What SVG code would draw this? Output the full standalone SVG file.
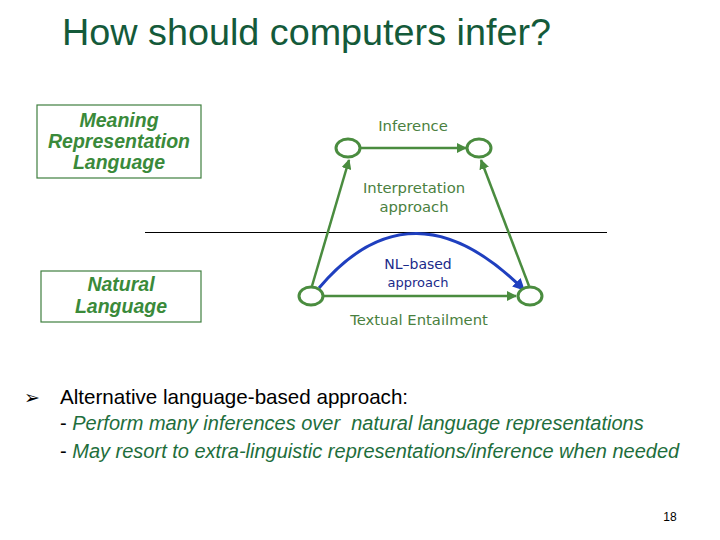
<svg xmlns="http://www.w3.org/2000/svg" width="720" height="540" viewBox="0 0 720 540">
<defs>
<style>
.t{font-family:"Liberation Sans",Arial,sans-serif}
.box{fill:#fff;stroke:#3f7f3f;stroke-width:1.2}
.bl{font-family:"Liberation Sans",Arial,sans-serif;font-weight:bold;font-style:italic;font-size:19.5px;fill:#3a8a3a;text-anchor:middle}
.lab{font-family:"DejaVu Sans","Noto Sans CJK JP",sans-serif;font-size:14.8px;fill:#4a8040;text-anchor:middle}
.node{fill:#fff;stroke:#4a8c3f;stroke-width:3}
.e{stroke:#4a8c3f;stroke-width:2.5;fill:none;marker-end:url(#ag)}
.it{font-family:"Liberation Sans",Arial,sans-serif;font-style:italic;font-size:20px;fill:#1e6e3c}
</style>
<marker id="ag" viewBox="0 0 10 10" refX="9" refY="5" markerWidth="4" markerHeight="4" orient="auto"><path d="M0,0 L10,5 L0,10 z" fill="#4a8c3f"/></marker>
<marker id="ab" viewBox="0 0 10 10" refX="9" refY="5" markerWidth="4" markerHeight="4" orient="auto"><path d="M0,0 L10,5 L0,10 z" fill="#1f3fbf"/></marker>
</defs>
<rect width="720" height="540" fill="#fff"/>
<text class="t" x="62" y="45" font-size="36" fill="#145a3a" textLength="489" lengthAdjust="spacingAndGlyphs">How should computers infer?</text>
<g id="mrl"><rect class="box" x="37" y="105" width="164" height="73"/>
<text class="bl" x="119" y="127">Meaning</text><text class="bl" x="119" y="148">Representation</text><text class="bl" x="119" y="169">Language</text></g>
<g id="nl"><rect class="box" x="41" y="271" width="160" height="51"/>
<text class="bl" x="121" y="291">Natural</text><text class="bl" x="121" y="313">Language</text></g>
<line x1="145" y1="232.5" x2="607" y2="232.5" stroke="#000" stroke-width="1"/>
<g id="connectors">
<line class="e" x1="361" y1="148" x2="466" y2="148"/>
<line class="e" x1="312" y1="286" x2="349" y2="160"/>
<line class="e" x1="529" y1="286" x2="481" y2="160"/>
<line class="e" x1="324" y1="296" x2="516" y2="296"/>
<path d="M319,288 Q412,178 524,290" fill="none" stroke="#1f3fbf" stroke-width="3" marker-end="url(#ab)"/>
</g>
<g id="n1"><ellipse class="node" cx="348" cy="148" rx="12" ry="9"/></g>
<g id="n2"><ellipse class="node" cx="479" cy="148" rx="12" ry="9"/></g>
<g id="n3"><ellipse class="node" cx="311" cy="296" rx="12" ry="9"/></g>
<g id="n4"><ellipse class="node" cx="530" cy="296" rx="12" ry="9"/></g>
<text class="lab" x="413" y="131">Inference</text>
<text class="lab" x="414" y="193">Interpretation</text>
<text class="lab" x="414" y="212">approach</text>
<text class="lab" x="418" y="269" style="fill:#1a2a8a;font-size:14px">NL–based</text>
<text class="lab" x="418" y="287" style="fill:#1a2a8a;font-size:13px">approach</text>
<text class="lab" x="419" y="325">Textual Entailment</text>
<text class="t" x="24" y="404" font-size="19" fill="#000">➢</text>
<text class="t" x="60" y="404" font-size="20.6" fill="#000">Alternative language-based approach:</text>
<text class="it" x="60" y="430"><tspan fill="#000" font-style="normal">- </tspan>Perform many inferences over&#160; natural language representations</text>
<text class="it" x="60" y="458"><tspan fill="#000" font-style="normal">- </tspan>May resort to extra-linguistic representations/inference when needed</text>
<text class="t" x="670" y="521" font-size="12" fill="#000" text-anchor="middle">18</text>
</svg>
